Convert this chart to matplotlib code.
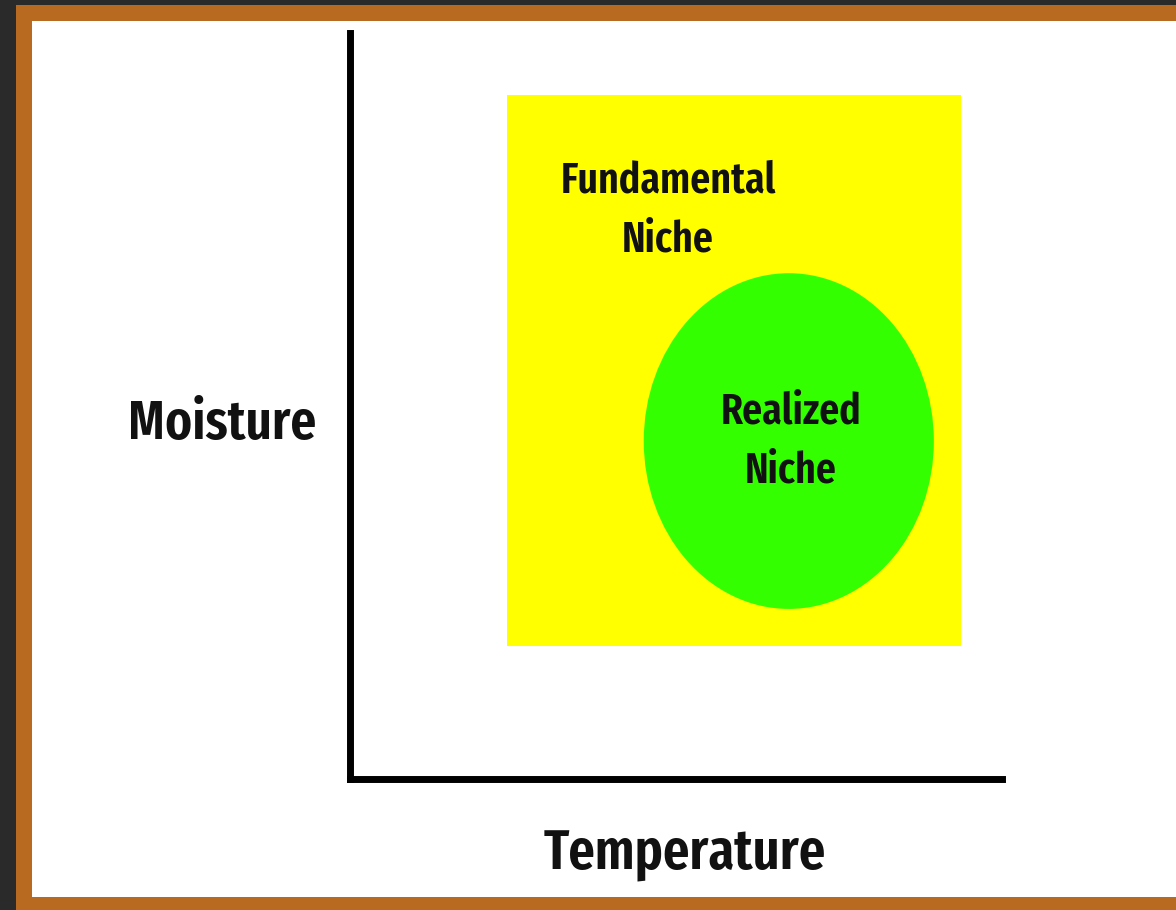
import os
import matplotlib
matplotlib.use("Agg")
import matplotlib.pyplot as plt
from matplotlib.patches import Rectangle, Ellipse
from matplotlib import font_manager
from matplotlib.font_manager import FontProperties

# ---- data (conceptual niche space, 0-100 on each axis) ----
x_label = "Temperature"
y_label = "Moisture"
niche_names = ["Fundamental\nNiche", "Realized\nNiche"]
fundamental_x = [24.1, 93.7]      # temperature range
fundamental_y = [17.8, 91.7]      # moisture range
realized_center = [67.3, 45.3]    # temperature, moisture
realized_size = [44.5, 45.0]      # width, height
fundamental_label_pos = [48.8, 76.3]
realized_label_pos = [67.6, 45.3]

W, H = 1176, 910
fig = plt.figure(figsize=(W / 100, H / 100), dpi=100)
fig.patch.set_facecolor("#2a2a2a")

fig.add_artist(Rectangle((16 / W, 0), 1, 1 - 5 / H, transform=fig.transFigure,
                         facecolor="#b96a21", edgecolor="none", zorder=-3))
fig.add_artist(Rectangle((32 / W, 1 - 897 / H), 1, (897 - 21) / H, transform=fig.transFigure,
                         facecolor="white", edgecolor="none", zorder=-2))

# condensed humanist bold font
prefs = ["OpenSansCondensed-Bold", "OpenSans_Condensed-Bold", "NotoSans-CondensedBold",
         "NotoSans-CondensedSemiBold", "FiraSansExtraCondensed-SemiBold"]
files = [f.fname for f in font_manager.fontManager.ttflist]
fpath = None
for p in prefs:
    hits = [f for f in files if os.path.basename(f).startswith(p + ".")]
    if hits:
        fpath = hits[0]
        break


def fp(size):
    if fpath:
        return FontProperties(fname=fpath, size=size)
    return FontProperties(family="DejaVu Sans", weight="bold", stretch="condensed", size=size)


ax = fig.add_axes([350 / W, 1 - 779 / H, (1002 - 350) / W, (779 - 33) / H])
ax.set_xlim(0, 100)
ax.set_ylim(0, 100)
ax.patch.set_alpha(0)
for s in ["top", "right"]:
    ax.spines[s].set_visible(False)
for s in ["left", "bottom"]:
    ax.spines[s].set_linewidth(5)
    ax.spines[s].set_color("black")
ax.set_xticks([])
ax.set_yticks([])

ax.add_patch(Rectangle((fundamental_x[0], fundamental_y[0]),
                       fundamental_x[1] - fundamental_x[0],
                       fundamental_y[1] - fundamental_y[0],
                       facecolor="#ffff00", edgecolor="none"))
ax.add_patch(Ellipse(realized_center, realized_size[0], realized_size[1],
                     facecolor="#33ff00", edgecolor="none"))

ax.text(*fundamental_label_pos, niche_names[0], ha="center", va="center",
        fontproperties=fp(31), linespacing=1.5, color="#111111")
ax.text(*realized_label_pos, niche_names[1], ha="center", va="center",
        fontproperties=fp(31), linespacing=1.5, color="#111111")

fig.text(685 / W, 1 - 855 / H, x_label, ha="center", va="center",
         fontproperties=fp(41), color="#111111")
fig.text(222 / W, 1 - 425 / H, y_label, ha="center", va="center",
         fontproperties=fp(40), color="#111111")

fig.savefig("out.png", dpi=100, facecolor=fig.get_facecolor())
